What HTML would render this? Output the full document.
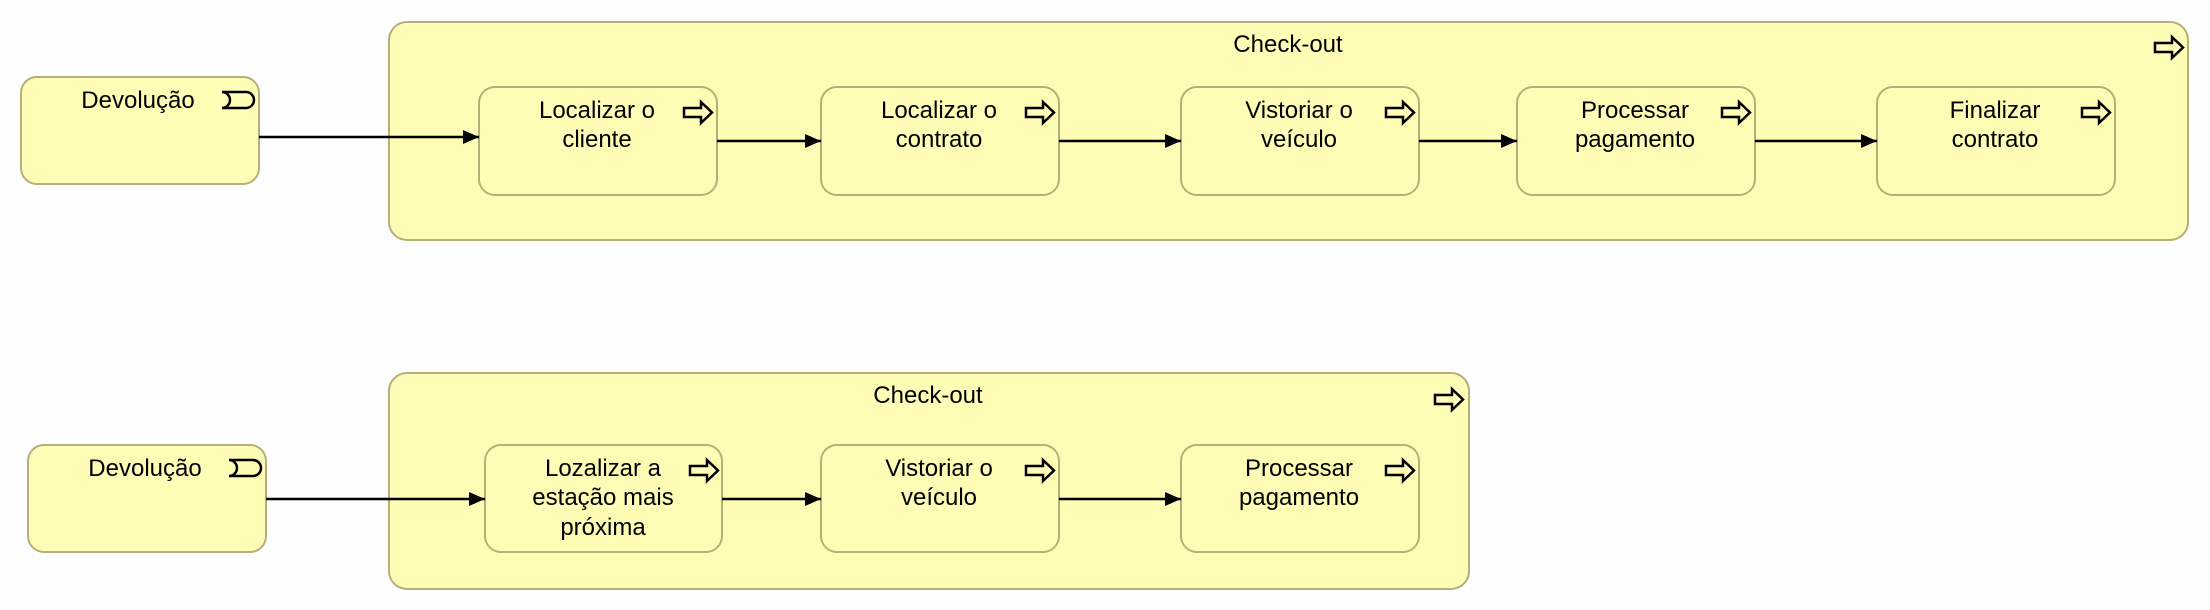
<!DOCTYPE html>
<html><head><meta charset="utf-8"><style>
html,body{margin:0;padding:0;background:#fefefe;}
svg{display:block;}
text{font-family:"Liberation Sans",sans-serif;font-size:24px;fill:#000;text-anchor:middle;}
.b{fill:#fffdb5;stroke:#b4b07a;stroke-width:2;}
.c{stroke:#000;stroke-width:2.5;fill:none;}
.i{fill:none;stroke:#000;stroke-width:2.5;stroke-linejoin:miter;}
</style></head><body>
<svg width="2210" height="610" viewBox="0 0 2210 610" xmlns="http://www.w3.org/2000/svg">
<defs>
<marker id="a" markerWidth="16" markerHeight="14" refX="16" refY="7" orient="auto" markerUnits="userSpaceOnUse"><path d="M0,0 L16,7 L0,14 Z" fill="#000"/></marker>
<g id="pi"><path class="i" d="M0,6 H17 V0 L28,10.5 L17,21 V15 H0 Z"/></g>
<g id="ev"><path class="i" d="M0,0 H24 A8,8 0 0 1 24,16 H0 A8,8 0 0 0 0,0 Z"/></g>
</defs>

<!-- TOP -->
<rect class="b" x="21" y="77" width="238" height="107" rx="16"/>
<text x="138" y="108">Devolução</text>
<use href="#ev" x="222" y="92"/>

<rect class="b" x="389" y="22" width="1799" height="218" rx="18"/>
<text x="1288" y="52">Check-out</text>
<use href="#pi" x="2155" y="37"/>

<rect class="b" x="479" y="87" width="238" height="108" rx="16"/>
<text x="597" y="118">Localizar o</text><text x="597" y="147">cliente</text>
<use href="#pi" x="684" y="102"/>

<rect class="b" x="821" y="87" width="238" height="108" rx="16"/>
<text x="939" y="118">Localizar o</text><text x="939" y="147">contrato</text>
<use href="#pi" x="1026" y="102"/>

<rect class="b" x="1181" y="87" width="238" height="108" rx="16"/>
<text x="1299" y="118">Vistoriar o</text><text x="1299" y="147">veículo</text>
<use href="#pi" x="1386" y="102"/>

<rect class="b" x="1517" y="87" width="238" height="108" rx="16"/>
<text x="1635" y="118">Processar</text><text x="1635" y="147">pagamento</text>
<use href="#pi" x="1722" y="102"/>

<rect class="b" x="1877" y="87" width="238" height="108" rx="16"/>
<text x="1995" y="118">Finalizar</text><text x="1995" y="147">contrato</text>
<use href="#pi" x="2082" y="102"/>

<line class="c" x1="259" y1="137" x2="479" y2="137" marker-end="url(#a)"/>
<line class="c" x1="717" y1="141" x2="821" y2="141" marker-end="url(#a)"/>
<line class="c" x1="1059" y1="141" x2="1181" y2="141" marker-end="url(#a)"/>
<line class="c" x1="1419" y1="141" x2="1517" y2="141" marker-end="url(#a)"/>
<line class="c" x1="1755" y1="141" x2="1877" y2="141" marker-end="url(#a)"/>

<!-- BOTTOM -->
<rect class="b" x="28" y="445" width="238" height="107" rx="16"/>
<text x="145" y="476">Devolução</text>
<use href="#ev" x="229" y="460"/>

<rect class="b" x="389" y="373" width="1080" height="216" rx="18"/>
<text x="928" y="403">Check-out</text>
<use href="#pi" x="1435" y="389"/>

<rect class="b" x="485" y="445" width="237" height="107" rx="16"/>
<text x="603" y="476">Lozalizar a</text><text x="603" y="505">estação mais</text><text x="603" y="535">próxima</text>
<use href="#pi" x="690" y="460"/>

<rect class="b" x="821" y="445" width="238" height="107" rx="16"/>
<text x="939" y="476">Vistoriar o</text><text x="939" y="505">veículo</text>
<use href="#pi" x="1026" y="460"/>

<rect class="b" x="1181" y="445" width="238" height="107" rx="16"/>
<text x="1299" y="476">Processar</text><text x="1299" y="505">pagamento</text>
<use href="#pi" x="1386" y="460"/>

<line class="c" x1="266" y1="499" x2="485" y2="499" marker-end="url(#a)"/>
<line class="c" x1="722" y1="499" x2="821" y2="499" marker-end="url(#a)"/>
<line class="c" x1="1059" y1="499" x2="1181" y2="499" marker-end="url(#a)"/>
</svg>
</body></html>
